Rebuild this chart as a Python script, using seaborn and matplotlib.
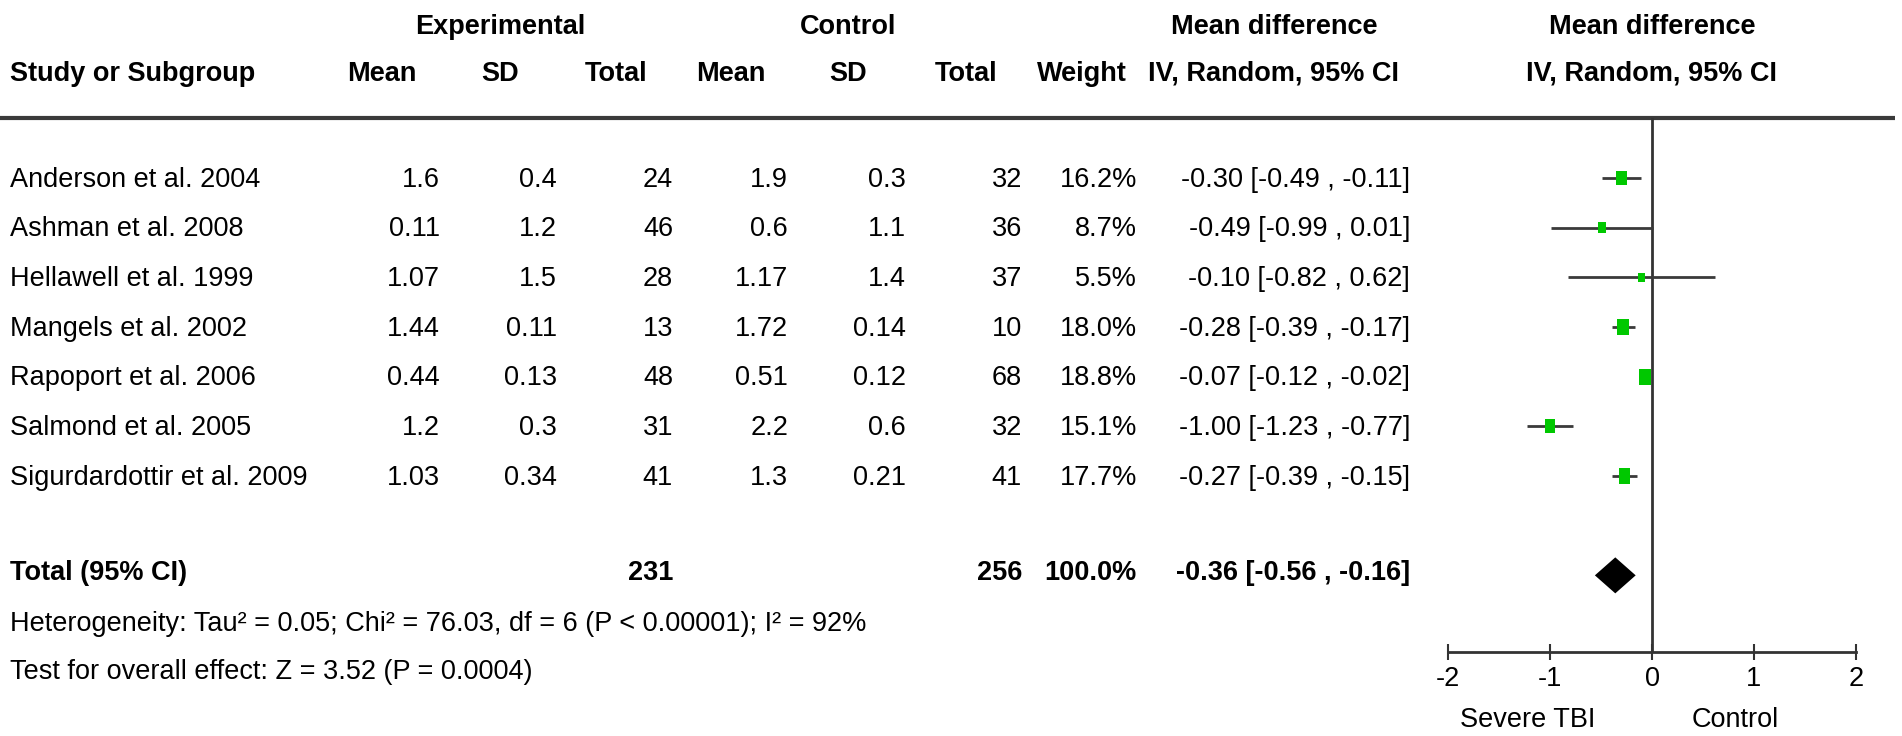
import matplotlib
matplotlib.use("Agg")
import matplotlib.pyplot as plt
from matplotlib import font_manager
import seaborn as sns
import pandas as pd

# study data
studies = ["Anderson et al. 2004", "Ashman et al. 2008", "Hellawell et al. 1999",
           "Mangels et al. 2002", "Rapoport et al. 2006", "Salmond et al. 2005",
           "Sigurdardottir et al. 2009"]
exp_mean = [1.6, 0.11, 1.07, 1.44, 0.44, 1.2, 1.03]
exp_sd = [0.4, 1.2, 1.5, 0.11, 0.13, 0.3, 0.34]
exp_n = [24, 46, 28, 13, 48, 31, 41]
ctrl_mean = [1.9, 0.6, 1.17, 1.72, 0.51, 2.2, 1.3]
ctrl_sd = [0.3, 1.1, 1.4, 0.14, 0.12, 0.6, 0.21]
ctrl_n = [32, 36, 37, 10, 68, 32, 41]
weight = [16.2, 8.7, 5.5, 18.0, 18.8, 15.1, 17.7]
md = [-0.30, -0.49, -0.10, -0.28, -0.07, -1.00, -0.27]
ci_lo = [-0.49, -0.99, -0.82, -0.39, -0.12, -1.23, -0.39]
ci_hi = [-0.11, 0.01, 0.62, -0.17, -0.02, -0.77, -0.15]

total_exp = 231
total_ctrl = 256
total_weight = 100.0
total_md = -0.36
total_lo = -0.56
total_hi = -0.16

xticks = [-2, -1, 0, 1, 2]
heterogeneity = "Heterogeneity: Tau² = 0.05; Chi² = 76.03, df = 6 (P < 0.00001); I² = 92%"
overall = "Test for overall effect: Z = 3.52 (P = 0.0004)"

sns.set_theme(style="white")
names = {f.name for f in font_manager.fontManager.ttflist}
if "Liberation Sans Narrow" in names:
    fam, fs = "Liberation Sans Narrow", 23
else:
    fam, fs = "Liberation Sans", 19.5
plt.rcParams["font.family"] = [fam, "DejaVu Sans"]
plt.rcParams["axes.unicode_minus"] = False

df = pd.DataFrame({"study": studies, "md": md, "lo": ci_lo, "hi": ci_hi, "weight": weight})
df["row"] = range(len(df))
total_row = len(df) + 1

W, H = 1902, 736
fig = plt.figure(figsize=(W / 100, H / 100), dpi=100)

# pixel-space axes for the table part
tax = fig.add_axes([0, 0, 1, 1])
tax.set_xlim(0, W)
tax.set_ylim(H, 0)
tax.axis("off")

cap = fs * 100 / 72 * 0.716 / 2   # half cap height in px


def put(x, y, s, ha="right", bold=False):
    tax.text(x, y + cap, s, ha=ha, va="baseline", fontsize=fs,
             fontweight="bold" if bold else "normal", color="black")


# headers
put(500, 24, "Experimental", ha="center", bold=True)
put(848, 24, "Control", ha="center", bold=True)
put(1274, 24, "Mean difference", ha="center", bold=True)
put(1652, 24, "Mean difference", ha="center", bold=True)
put(10, 71, "Study or Subgroup", ha="left", bold=True)
for xc, s in [(382, "Mean"), (500, "SD"), (616, "Total"), (731, "Mean"),
              (848, "SD"), (966, "Total"), (1082, "Weight"),
              (1274, "IV, Random, 95% CI"), (1652, "IV, Random, 95% CI")]:
    put(xc, 71, s, ha="center", bold=True)
tax.plot([0, 1895], [118, 118], color="#3a3a3a", lw=3, solid_capstyle="butt")

# study rows
col_right = [440, 557, 673, 788, 906, 1022, 1137, 1410]
for i, r in df.iterrows():
    y = 177 + 49.67 * i
    put(10, y, r["study"], ha="left")
    vals = [f"{exp_mean[i]:g}", f"{exp_sd[i]:g}", f"{exp_n[i]}",
            f"{ctrl_mean[i]:g}", f"{ctrl_sd[i]:g}", f"{ctrl_n[i]}",
            f"{weight[i]:.1f}%", f"{md[i]:.2f} [{ci_lo[i]:.2f} , {ci_hi[i]:.2f}]"]
    for xr, s in zip(col_right, vals):
        put(xr, y, s)

# total row
yt = 570
put(10, yt, "Total (95% CI)", ha="left", bold=True)
put(col_right[2], yt, f"{total_exp}", bold=True)
put(col_right[5], yt, f"{total_ctrl}", bold=True)
put(col_right[6], yt, f"{total_weight:.1f}%", bold=True)
put(col_right[7], yt, f"{total_md:.2f} [{total_lo:.2f} , {total_hi:.2f}]", bold=True)
put(10, 621, heterogeneity, ha="left")
put(10, 669, overall, ha="left")

# forest plot axes
x0, x1 = 1448, 1856
ytop, ybot = 118, 652
fax = fig.add_axes([x0 / W, 1 - ybot / H, (x1 - x0) / W, (ybot - ytop) / H])
fax.patch.set_alpha(0)
step = 49.67
row0 = 178
fax.set_ylim((ybot - row0) / step, (ytop - row0) / step)
fax.set_xlim(-2, 2)

fax.axvline(0, color="#333333", lw=2, zorder=1)
fax.hlines(df["row"], df["lo"], df["hi"], color="#3a3a3a", lw=2, zorder=2)
box = [(-0.77, -1), (0.77, -1), (0.77, 1), (-0.77, 1)]
sns.scatterplot(data=df, x="md", y="row", size="weight", sizes=(7.0 * min(weight), 7.0 * max(weight)),
                size_norm=(min(weight), max(weight)), marker=box, color="#00c800",
                edgecolor="none", linewidth=0, legend=False, zorder=3, ax=fax)
dh = 18 / step
fax.fill([total_lo, total_md, total_hi, total_md],
         [total_row, total_row - dh, total_row, total_row + dh], color="black", lw=0, zorder=4)

for side in ["left", "right", "top"]:
    fax.spines[side].set_visible(False)
fax.spines["bottom"].set_color("#333333")
fax.spines["bottom"].set_linewidth(2)
fax.set_yticks([])
fax.set_xticks(xticks)
fax.set_xticklabels([str(t) for t in xticks])
fax.tick_params(axis="x", direction="inout", length=12, width=1.5, color="#333333",
                labelsize=fs, labelcolor="black", pad=4, bottom=True)
fax.set_xlabel("")
fax.set_ylabel("")

put(1528, 717, "Severe TBI", ha="center")
put(1735, 717, "Control", ha="center")

fig.savefig("out.png", dpi=100)
